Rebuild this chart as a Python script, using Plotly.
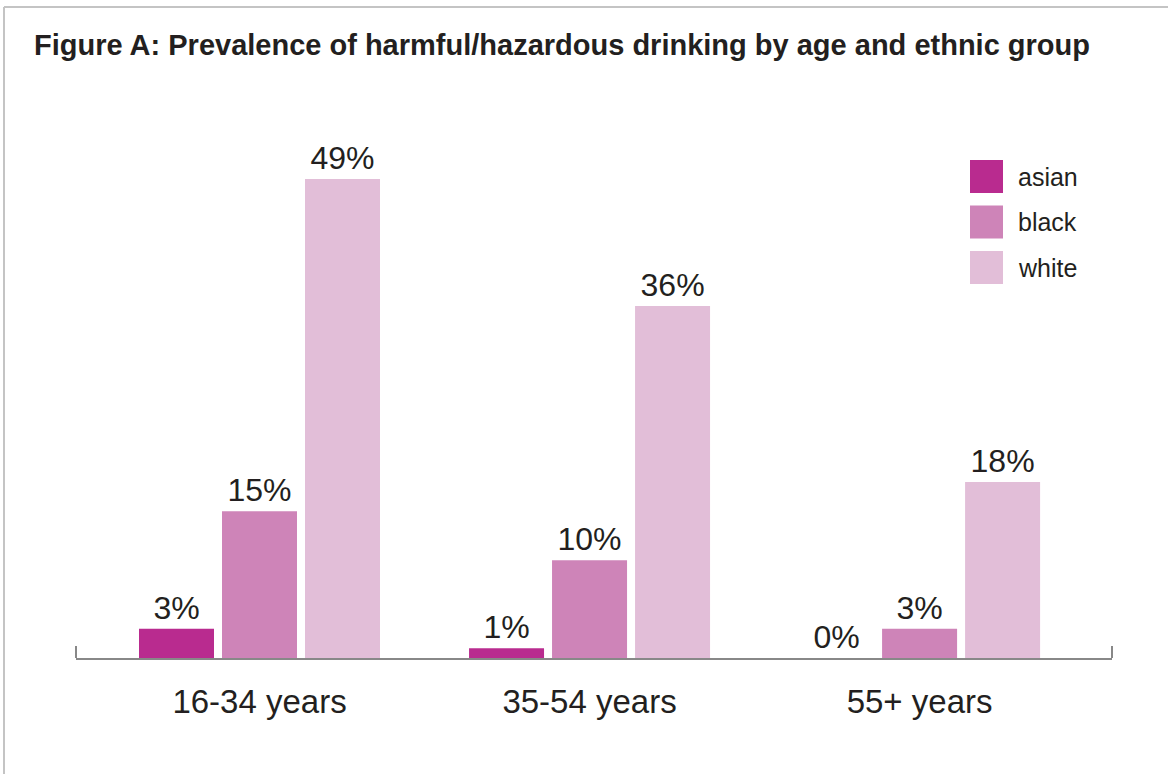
import plotly.graph_objects as go

# ---- data ----
age_groups = ["16-34 years", "35-54 years", "55+ years"]
series_names = ["asian", "black", "white"]
asian = [3, 1, 0]
black = [15, 10, 3]
white = [49, 36, 18]
colors = ["#B92B8F", "#CE84B8", "#E2BED8"]

W, H = 1168, 774
L, R, T, B = 76, 56, 100, 116
PW, PH = W - L - R, H - T - B

def px_x(x):
    return (x - L) / PW

def px_y(y):
    return (H - B - y) / PH

fig = go.Figure()
for name, vals, col in zip(series_names, [asian, black, white], colors):
    fig.add_trace(go.Bar(
        x=age_groups, y=vals, name=name,
        marker=dict(color=col, line=dict(width=0)),
        text=[f"{v}%" for v in vals], textposition="outside",
        textfont=dict(family="Liberation Sans, Arial, sans-serif", size=32, color="#231F20"),
        cliponaxis=False, showlegend=False,
    ))

shapes = []
# frame border (left and top)
shapes.append(dict(type="line", xref="paper", yref="paper",
                   x0=px_x(4), x1=px_x(W + 10), y0=px_y(7), y1=px_y(7),
                   line=dict(color="#C4C4C4", width=2)))
shapes.append(dict(type="line", xref="paper", yref="paper",
                   x0=px_x(4), x1=px_x(4), y0=px_y(7), y1=px_y(H + 10),
                   line=dict(color="#C4C4C4", width=2)))
# end ticks on the axis
for xe in (0, 1):
    shapes.append(dict(type="line", xref="paper", yref="paper",
                       x0=xe, x1=xe, y0=0, y1=12 / PH,
                       line=dict(color="#888888", width=2)))

annotations = []
# manual legend with large swatches
for i, (name, col) in enumerate(zip(series_names, colors)):
    top = 160 + i * 45.5
    shapes.append(dict(type="rect", xref="paper", yref="paper",
                       x0=px_x(970), x1=px_x(1003), y0=px_y(top + 33), y1=px_y(top),
                       fillcolor=col, line=dict(width=0)))
    annotations.append(dict(xref="paper", yref="paper", x=px_x(1016), y=px_y(top + 16.5),
                            text=name, showarrow=False, xanchor="left", yanchor="middle",
                            font=dict(family="Liberation Sans, Arial, sans-serif", size=25, color="#231F20")))

fig.update_layout(
    width=W, height=H,
    margin=dict(l=L, r=R, t=T, b=B),
    paper_bgcolor="white", plot_bgcolor="white",
    barmode="group", bargap=0.2455, bargroupgap=0.0964,
    title=dict(text="<b>Figure A: Prevalence of harmful/hazardous drinking by age and ethnic group</b>",
               x=34 / W, xanchor="left", xref="container",
               y=1 - 45 / H, yanchor="middle", yref="container",
               font=dict(family="Liberation Sans, Arial, sans-serif", size=29, color="#231F20")),
    xaxis=dict(type="category", range=[-0.556, 2.583], showline=True, linecolor="#888888",
               linewidth=2, ticks="", showgrid=False, zeroline=False,
               tickfont=dict(family="Liberation Sans, Arial, sans-serif", size=33, color="#231F20"),
               ticklabelstandoff=13),
    yaxis=dict(range=[0, PH / 9.776], visible=False, showgrid=False, zeroline=False),
    shapes=shapes, annotations=annotations,
)

fig.write_html("out.html")
